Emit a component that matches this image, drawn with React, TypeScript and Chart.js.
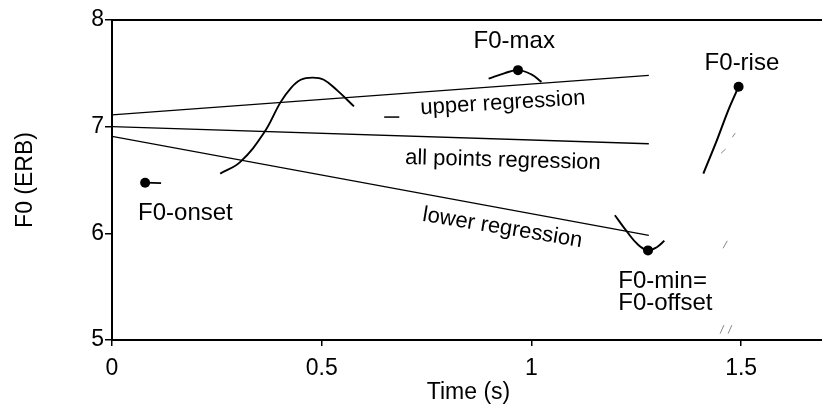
import React, { useEffect, useRef } from "react";
import { Chart, registerables } from "chart.js";

Chart.register(...registerables);

const FONT = "'Liberation Sans', Arial, Helvetica, sans-serif";

// axis ticks
const xTickValues = [0, 0.5, 1, 1.5];
const yTickValues = [5, 6, 7, 8];

// F0 contour fragments (time in s, F0 in ERB)
const onsetTime = [0.079, 0.117];
const onsetF0 = [6.475, 6.47];

const peakTime = [0.258, 0.306, 0.362, 0.402, 0.426, 0.45, 0.478, 0.505, 0.537, 0.577];
const peakF0 = [6.56, 6.67, 6.94, 7.23, 7.36, 7.44, 7.46, 7.44, 7.34, 7.19];

const dashTime = [0.649, 0.685];
const dashF0 = [7.09, 7.09];

const maxTime = [0.898, 0.935, 0.968, 1.0, 1.024];
const maxF0 = [7.45, 7.5, 7.53, 7.49, 7.42];

const minTime = [1.199, 1.227, 1.255, 1.278, 1.299, 1.317];
const minF0 = [6.17, 6.02, 5.89, 5.84, 5.87, 5.93];

const riseTime = [1.41, 1.439, 1.47, 1.494];
const riseF0 = [6.56, 6.84, 7.16, 7.375];

// measured points: onset, max, min (= offset), rise
const markTime = [0.079, 0.968, 1.278, 1.494];
const markF0 = [6.475, 7.53, 5.84, 7.375];

// regression lines
const regTime = [0, 1.28];
const upperRegF0 = [7.11, 7.48];
const allRegF0 = [7.0, 6.84];
const lowerRegF0 = [6.91, 5.98];

// faint scan specks (start/end pairs)
const speckTimeA = [1.479, 1.452, 1.457, 1.45, 1.469];
const speckF0A = [6.9, 6.75, 5.86, 5.06, 5.06];
const speckTimeB = [1.486, 1.463, 1.467, 1.459, 1.478];
const speckF0B = [6.94, 6.79, 5.93, 5.14, 5.14];

// annotations
const labelTexts = [
  "F0-onset",
  "F0-max",
  "F0-rise",
  "upper regression",
  "all points regression",
  "lower regression",
  "F0-min=",
  "F0-offset",
];
const labelTime = [0.175, 0.959, 1.502, 0.932, 0.932, 0.931, 1.207, 1.207];
const labelF0 = [6.19, 7.797, 7.594, 7.22, 6.683, 6.05, 5.547, 5.344];
const labelAngle = [0, 0, 0, -3.4, 1.5, 9.4, 0, 0];
const labelAlign: CanvasTextAlign[] = ["center", "center", "center", "center", "center", "center", "left", "left"];
const labelSize = [24, 24, 24, 22, 22, 22, 24, 24];

const pts = (xs: number[], ys: number[]) => xs.map((x, i) => ({ x, y: ys[i] }));

const lineDs = (xs: number[], ys: number[], width: number, tension: number, color = "#000") => ({
  type: "scatter" as const,
  data: pts(xs, ys),
  showLine: true,
  borderColor: color,
  borderWidth: width,
  pointRadius: 0,
  tension,
  fill: false,
});

const annotatePlugin = {
  id: "annotate",
  afterDraw(chart: any) {
    const { ctx, chartArea, scales } = chart;
    ctx.save();
    ctx.strokeStyle = "#000";
    ctx.lineWidth = 2;
    ctx.beginPath();
    ctx.moveTo(chartArea.left, chartArea.top);
    ctx.lineTo(chartArea.right, chartArea.top);
    ctx.stroke();
    ctx.fillStyle = "#000";
    ctx.textBaseline = "middle";
    labelTexts.forEach((t, i) => {
      const px = scales.x.getPixelForValue(labelTime[i]);
      const py = scales.y.getPixelForValue(labelF0[i]);
      ctx.save();
      ctx.translate(px, py);
      ctx.rotate((labelAngle[i] * Math.PI) / 180);
      ctx.font = `${labelSize[i]}px ${FONT}`;
      ctx.textAlign = labelAlign[i];
      ctx.fillText(t, 0, 0);
      ctx.restore();
    });
    ctx.restore();
  },
};

export default function App() {
  const ref = useRef<HTMLCanvasElement>(null);
  useEffect(() => {
    const canvas = ref.current;
    if (!canvas) return;
    const specks = speckTimeA.map((_, i) =>
      lineDs([speckTimeA[i], speckTimeB[i]], [speckF0A[i], speckF0B[i]], 1, 0, "#888")
    );
    const chart = new Chart(canvas, {
      type: "scatter",
      data: {
        datasets: [
          lineDs(regTime, upperRegF0, 1.3, 0),
          lineDs(regTime, allRegF0, 1.3, 0),
          lineDs(regTime, lowerRegF0, 1.3, 0),
          lineDs(onsetTime, onsetF0, 1.8, 0),
          lineDs(peakTime, peakF0, 1.9, 0.4),
          lineDs(dashTime, dashF0, 1.5, 0),
          lineDs(maxTime, maxF0, 1.9, 0.4),
          lineDs(minTime, minF0, 1.9, 0.4),
          lineDs(riseTime, riseF0, 2, 0.3),
          ...specks,
          {
            type: "scatter" as const,
            data: pts(markTime, markF0),
            showLine: false,
            pointRadius: 5,
            pointBackgroundColor: "#000",
            pointBorderColor: "#000",
            pointBorderWidth: 0,
          },
        ] as any,
      },
      options: {
        responsive: false,
        animation: false,
        devicePixelRatio: 1,
        layout: { padding: { top: 20, right: 0, bottom: 0, left: 0 } },
        plugins: { legend: { display: false }, tooltip: { enabled: false } },
        scales: {
          x: {
            type: "linear",
            min: 0,
            max: 1.7,
            afterBuildTicks: (s: any) => {
              s.ticks = xTickValues.map((v) => ({ value: v }));
            },
            afterFit: (s: any) => {
              s.height = 66;
            },
            ticks: {
              color: "#000",
              font: { family: FONT, size: 23 },
              padding: 9,
              maxRotation: 0,
              autoSkip: false,
              callback: (v: any) => String(v),
            },
            grid: { drawOnChartArea: false, drawTicks: true, tickLength: 6, color: "#000", lineWidth: 1.5 },
            border: { display: true, color: "#000", width: 2 },
            title: {
              display: true,
              text: "Time (s)",
              color: "#000",
              font: { family: FONT, size: 23 },
              padding: { top: 0, bottom: 0 },
            },
          },
          y: {
            type: "linear",
            min: 5,
            max: 8,
            afterBuildTicks: (s: any) => {
              s.ticks = yTickValues.map((v) => ({ value: v }));
            },
            afterFit: (s: any) => {
              s.width = 112;
            },
            ticks: {
              color: "#000",
              font: { family: FONT, size: 23 },
              padding: 1,
              callback: (v: any) => String(v),
            },
            grid: { drawOnChartArea: false, drawTicks: true, tickLength: 7, color: "#000", lineWidth: 1.5 },
            border: { display: true, color: "#000", width: 2 },
            title: {
              display: true,
              text: "F0 (ERB)",
              color: "#000",
              font: { family: FONT, size: 23 },
              padding: { top: 12, bottom: 0 },
            },
          },
        },
      },
      plugins: [annotatePlugin],
    } as any);
    return () => chart.destroy();
  }, []);
  return (
    <div
      style={{
        position: "fixed",
        left: 0,
        top: 0,
        width: 822,
        height: 406,
        overflow: "hidden",
        background: "#fff",
      }}
    >
      <canvas ref={ref} width={830} height={406} style={{ display: "block" }} />
    </div>
  );
}
